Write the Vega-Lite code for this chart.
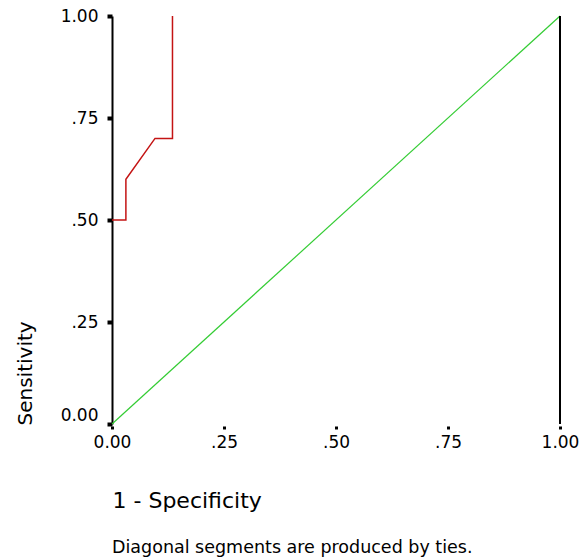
{
  "$schema": "https://vega.github.io/schema/vega-lite/v6.json",
  "autosize": "none",
  "width": 448,
  "height": 408,
  "padding": {"left": 112, "top": 16, "right": 19, "bottom": 136},
  "background": "white",
  "config": {
    "view": {"stroke": null},
    "font": "DejaVu Sans"
  },
  "title": {
    "text": "Diagonal segments are produced by ties.",
    "orient": "bottom",
    "anchor": "start",
    "frame": "group",
    "font": "DejaVu Sans",
    "fontSize": 17.5,
    "fontWeight": "normal",
    "color": "black",
    "baseline": "top",
    "offset": 28
  },
  "datasets": {
    "roc": [
      {"fpr": 0.0, "sens": 0.5, "ord": 1},
      {"fpr": 0.031, "sens": 0.5, "ord": 2},
      {"fpr": 0.031, "sens": 0.6, "ord": 3},
      {"fpr": 0.096, "sens": 0.7, "ord": 4},
      {"fpr": 0.135, "sens": 0.7, "ord": 5},
      {"fpr": 0.135, "sens": 1.0, "ord": 6}
    ],
    "diag": [
      {"fpr": 0, "sens": 0, "ord": 1},
      {"fpr": 1, "sens": 1, "ord": 2}
    ],
    "edge": [
      {"fpr": 1, "lo": 0, "hi": 1}
    ]
  },
  "layer": [
    {
      "data": {"name": "diag"},
      "mark": {"type": "line", "color": "#33cc33", "strokeWidth": 1.2},
      "encoding": {
        "x": {
          "field": "fpr", "type": "quantitative",
          "scale": {"domain": [0, 1], "nice": false, "zero": false},
          "axis": {
            "values": [0, 0.25, 0.5, 0.75, 1],
            "labelExpr": "datum.value == 0 ? '0.00' : datum.value == 1 ? '1.00' : replace(format(datum.value, '.2f'), '0.', '.')",
            "domain": false,
            "grid": false,
            "tickColor": "black",
            "tickSize": 3,
            "tickWidth": 3,
            "offset": 2,
            "labelFont": "DejaVu Sans",
            "labelFontSize": 17,
            "labelColor": "black",
            "labelPadding": 5,
            "labelBaseline": "top",
            "labelFlush": false,
            "title": "1 - Specificity",
            "titleFont": "DejaVu Sans",
            "titleFontSize": 22,
            "titleFontWeight": "normal",
            "titleColor": "black",
            "titleAnchor": "start",
            "titleAlign": "left",
            "titleBaseline": "middle",
            "titleX": 0,
            "titleY": 74
          }
        },
        "y": {
          "field": "sens", "type": "quantitative",
          "scale": {"domain": [0, 1], "nice": false, "zero": false},
          "axis": {
            "values": [0, 0.25, 0.5, 0.75, 1],
            "labelExpr": "datum.value == 0 ? '0.00' : datum.value == 1 ? '1.00' : replace(format(datum.value, '.2f'), '0.', '.')",
            "domain": true,
            "domainColor": "black",
            "domainWidth": 2,
            "grid": false,
            "tickColor": "black",
            "tickSize": 5,
            "tickWidth": 4,
            "labelFont": "DejaVu Sans",
            "labelFontSize": 17,
            "labelColor": "black",
            "labelPadding": 9,
            "labelFlush": false,
            "labelBaseline": {"condition": {"test": "datum.value == 0", "value": "bottom"}, "value": "middle"},
            "title": "Sensitivity",
            "titleFont": "DejaVu Sans",
            "titleFontSize": 20,
            "titleFontWeight": "normal",
            "titleColor": "black",
            "titleAngle": 270,
            "titleAlign": "left",
            "titleBaseline": "middle",
            "titleX": -87,
            "titleY": 409
          }
        },
        "order": {"field": "ord", "type": "quantitative"}
      }
    },
    {
      "data": {"name": "roc"},
      "mark": {"type": "line", "color": "#c41414", "strokeWidth": 1.5},
      "encoding": {
        "x": {"field": "fpr", "type": "quantitative"},
        "y": {"field": "sens", "type": "quantitative"},
        "order": {"field": "ord", "type": "quantitative"}
      }
    },
    {
      "data": {"name": "edge"},
      "mark": {"type": "rule", "color": "black", "strokeWidth": 2},
      "encoding": {
        "x": {"field": "fpr", "type": "quantitative"},
        "y": {"field": "lo", "type": "quantitative"},
        "y2": {"field": "hi"}
      }
    }
  ]
}
